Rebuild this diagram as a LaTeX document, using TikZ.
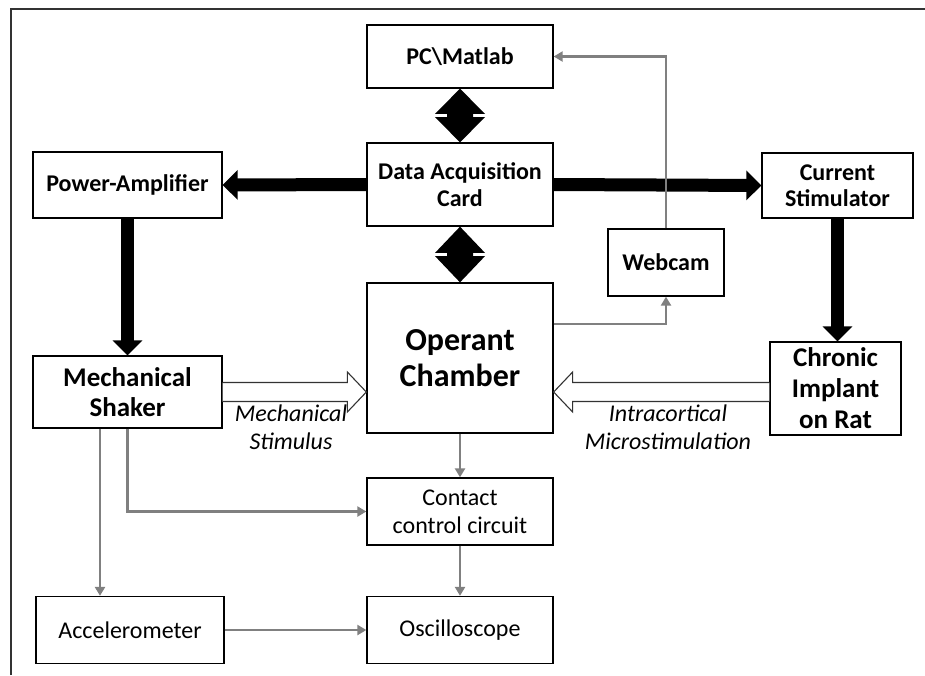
\documentclass[tikz,border=0pt]{standalone}
\usepackage{fontspec}
\setmainfont{Carlito}
\usetikzlibrary{arrows.meta,calc}
\begin{document}
\begin{tikzpicture}[x=1pt,y=-1pt,
  box/.style={draw=black,line width=1.3pt,fill=white,align=center,inner sep=0pt},
  nf/.style={font=\fontsize{24}{27.5}\selectfont},
  bf/.style={font=\fontsize{24}{27.5}\selectfont\bfseries},
  bigarrow/.style={line width=13pt,-{Triangle[length=15pt,width=29pt]}},
  garrow/.style={draw=gray,line width=2.8pt,-{Triangle[length=9pt,width=10pt]}},
  hollow/.style={draw=black!80,line width=1.1pt,fill=white,line join=miter},
  dbl/.style={fill=black},
  lbl/.style={font=\fontsize{24}{28}\selectfont\itshape,align=center}]
\useasboundingbox (0,0) rectangle (925,675);
\draw[line width=2pt,black!80] (11,675) -- (11,9) -- (925,9);

\node[box,bf,minimum width=186pt,minimum height=63pt] (pc) at (460,56.5) {PC\textbackslash Matlab};
\node[box,bf,minimum width=186pt,minimum height=83pt] (daq) at (460,184.5) {Data Acquisition\\Card};
\node[box,bf,minimum width=189pt,minimum height=66pt] (pa) at (127.5,185) {Power-Amplifier};
\node[box,bf,minimum width=151pt,minimum height=65pt,font=\fontsize{24}{26}\selectfont\bfseries] (cs) at (837.5,185.5) {Current\\Stimulator};
\node[box,minimum width=186pt,minimum height=150pt,font=\fontsize{32}{36}\selectfont\bfseries] (op) at (460,358) {Operant\\Chamber};
\node[box,minimum width=189pt,minimum height=72pt,font=\fontsize{27}{30}\selectfont\bfseries] (ms) at (127.5,392) {Mechanical\\Shaker};
\node[box,minimum width=131pt,minimum height=93pt,font=\fontsize{27}{31}\selectfont\bfseries] (ci) at (835.5,388.5) {Chronic\\Implant\\on Rat};
\node[box,nf,minimum width=186pt,minimum height=67pt,font=\fontsize{24}{28}\selectfont] (cc) at (460,511.5) {Contact\\control circuit};
\node[box,nf,minimum width=188pt,minimum height=67pt] (acc) at (130,630) {Accelerometer};
\node[box,nf,minimum width=186pt,minimum height=67pt] (osc) at (460,630) {Oscilloscope};

% thick black arrows
\draw[bigarrow] (daq.west) -- (pa.east);
\draw[bigarrow] (daq.east) -- (cs.west);
\draw[bigarrow] (pa.south) -- (ms.north);
\draw[bigarrow] (cs.south) -- (cs.south |- ci.north);

% webcam and grey connectors
\node[box,bf,minimum width=116pt,minimum height=67pt] (web) at (666,262.5) {Webcam};
\draw[garrow] (web.north) |- (pc.east);
\draw[garrow] ([yshift=34pt]op.east) -| (web.south);
\draw[garrow] (op.south) -- (cc.north);
\draw[garrow] ([xshift=-27.5pt]ms.south) -- ([xshift=-27.5pt]ms.south |- acc.north);
\draw[garrow] (ms.south) |- (cc.west);
\draw[garrow] (cc.south) -- (osc.north);
\draw[garrow] (acc.east) -- (osc.west);

% double diamond arrows
\coordinate (m1) at ($(pc.south)!0.5!(daq.north)$);
\coordinate (m2) at ($(daq.south)!0.5!(op.north)$);
\foreach \a/\b/\m in {pc/daq/m1, daq/op/m2}{
  \fill[dbl] (\a.south) -- ($(\m)+(25,-1.6)$) -- ($(\m)+(13,-1.6)$) -- ($(\m)+(13,1.6)$) -- ($(\m)+(25,1.6)$)
    -- (\b.north) -- ($(\m)+(-25,1.6)$) -- ($(\m)+(-13,1.6)$) -- ($(\m)+(-13,-1.6)$) -- ($(\m)+(-25,-1.6)$) -- cycle;
}

% hollow arrows
\coordinate (h1s) at (ms.east);
\coordinate (h1e) at (op.west |- ms.east);
\coordinate (h2s) at (ci.west |- ms.east);
\coordinate (h2e) at (op.east |- ms.east);
\filldraw[hollow] ($(h1s)+(0,-9.5)$) -- ($(h1e)+(-19,-9.5)$) -- ($(h1e)+(-19,-20)$) -- (h1e)
  -- ($(h1e)+(-19,20)$) -- ($(h1e)+(-19,9.5)$) -- ($(h1s)+(0,9.5)$);
\filldraw[hollow] ($(h2s)+(0,-9.5)$) -- ($(h2e)+(19,-9.5)$) -- ($(h2e)+(19,-20)$) -- (h2e)
  -- ($(h2e)+(19,20)$) -- ($(h2e)+(19,9.5)$) -- ($(h2s)+(0,9.5)$);

\node[lbl] (l1) at (291,427) {Mechanical\\Stimulus};
\node[lbl] (l2) at (668,427) {Intracortical\\Microstimulation};
\end{tikzpicture}
\end{document}
